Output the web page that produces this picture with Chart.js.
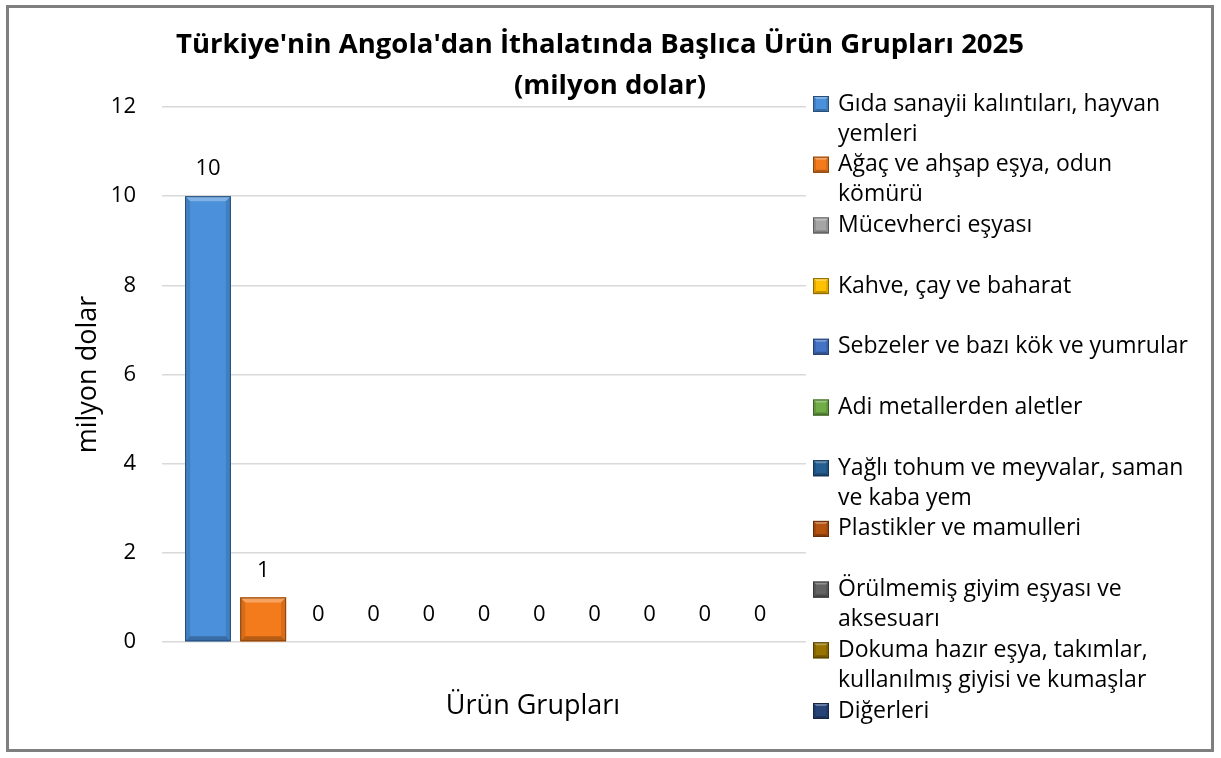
<!DOCTYPE html>
<html>
<head>
<meta charset="utf-8">
<script src="https://cdn.jsdelivr.net/npm/chart.js@4.4.0/dist/chart.umd.min.js"></script>
<style>
  html, body { margin: 0; padding: 0; background: #fff; }
</style>
</head>
<body>
<canvas id="chart" width="1221" height="758"></canvas>
<script>
// Data
const categories = [''];
const seriesNames = [
  'Gıda sanayii kalıntıları, hayvan yemleri',
  'Ağaç ve ahşap eşya, odun kömürü',
  'Mücevherci eşyası',
  'Kahve, çay ve baharat',
  'Sebzeler ve bazı kök ve yumrular',
  'Adi metallerden aletler',
  'Yağlı tohum ve meyvalar, saman ve kaba yem',
  'Plastikler ve mamulleri',
  'Örülmemiş giyim eşyası ve aksesuarı',
  'Dokuma hazır eşya, takımlar, kullanılmış giyisi ve kumaşlar',
  'Diğerleri'
];
const seriesValues = [10, 1, 0, 0, 0, 0, 0, 0, 0, 0, 0];
const seriesColors = ['#4A90DA', '#F47B1C', '#A5A5A5', '#FFC000', '#4472C4', '#70AD47',
                      '#255E91', '#B4520F', '#636363', '#997300', '#264478'];
const titleLines = ["Türkiye'nin Angola'dan İthalatında Başlıca Ürün Grupları 2025", '(milyon dolar)'];
const yTitle = 'milyon dolar';
const xTitle = 'Ürün Grupları';

const FONT = '"Open Sans", "Noto Sans", sans-serif';

function shade(hex, amt) {
  const n = parseInt(hex.slice(1), 16);
  let r = (n >> 16) & 255, g = (n >> 8) & 255, b = n & 255;
  const f = v => Math.max(0, Math.min(255, Math.round(amt < 0 ? v * (1 + amt) : v + (255 - v) * amt)));
  return `rgb(${f(r)},${f(g)},${f(b)})`;
}

// draws a beveled box like the office 3D bar style
function bevelBox(c, left, top, right, bottom, color, b) {
  c.save();
  c.fillStyle = color;
  c.fillRect(left, top, right - left, bottom - top);
  c.fillStyle = shade(color, 0.3);
  c.beginPath();
  c.moveTo(left, top); c.lineTo(right, top); c.lineTo(right - b, top + b); c.lineTo(left + b, top + b);
  c.closePath(); c.fill();
  c.fillStyle = shade(color, -0.12);
  c.beginPath();
  c.moveTo(left, top); c.lineTo(left + b, top + b); c.lineTo(left + b, bottom - b); c.lineTo(left, bottom);
  c.closePath(); c.fill();
  c.beginPath();
  c.moveTo(right, top); c.lineTo(right - b, top + b); c.lineTo(right - b, bottom - b); c.lineTo(right, bottom);
  c.closePath(); c.fill();
  c.fillStyle = shade(color, -0.25);
  c.beginPath();
  c.moveTo(left, bottom); c.lineTo(left + b, bottom - b); c.lineTo(right - b, bottom - b); c.lineTo(right, bottom);
  c.closePath(); c.fill();
  c.strokeStyle = shade(color, -0.45);
  c.lineWidth = 1;
  c.strokeRect(left + 0.5, top + 0.5, right - left - 1, bottom - top - 1);
  c.restore();
}

function wrapText(c, text, maxW) {
  const words = text.split(' ');
  const lines = [];
  let cur = '';
  words.forEach(w => {
    const t = cur ? cur + ' ' + w : w;
    if (c.measureText(t).width > maxW && cur) { lines.push(cur); cur = w; }
    else cur = t;
  });
  if (cur) lines.push(cur);
  return lines;
}

const decor = {
  id: 'decor',
  beforeDraw(chart) {
    const c = chart.ctx;
    c.save();
    c.fillStyle = '#fff';
    c.fillRect(0, 0, chart.width, chart.height);
    c.strokeStyle = '#7f7f7f';
    c.lineWidth = 3;
    c.strokeRect(7.5, 6.5, 1205, 744);
    c.restore();
  },
  afterDatasetsDraw(chart) {
    const c = chart.ctx;
    chart.data.datasets.forEach((ds, i) => {
      chart.getDatasetMeta(i).data.forEach((bar, j) => {
        const half = bar.width / 2;
        if (bar.base - bar.y > 1) {
          bevelBox(c, bar.x - half, bar.y, bar.x + half, bar.base, ds.backgroundColor, 5);
        }
        c.save();
        c.fillStyle = '#000';
        c.font = '22px ' + FONT;
        c.textAlign = 'center';
        c.textBaseline = 'middle';
        c.fillText(String(ds.data[j]), bar.x, bar.y - 27);
        c.restore();
      });
    });
  },
  afterDraw(chart) {
    const c = chart.ctx;
    const area = chart.chartArea;
    c.save();
    c.fillStyle = '#000';
    c.textAlign = 'center';
    c.textBaseline = 'middle';
    c.font = 'bold 27.5px ' + FONT;
    c.fillText(titleLines[0], 600, 45);
    c.fillText(titleLines[1], 610, 86);

    // x axis title sits right of the plot centre in the original
    c.font = '27px ' + FONT;
    c.fillText(xTitle, area.left + 371, 706);

    // legend
    c.font = '23px ' + FONT;
    c.textAlign = 'left';
    chart.data.datasets.forEach((ds, i) => {
      const y = 104 + i * 60.7;
      bevelBox(c, 813, y - 8, 829, y + 8, ds.backgroundColor, 3);
      const lines = wrapText(c, ds.label, 360);
      lines.forEach((ln, k) => c.fillText(ln, 838, y + k * 30));
    });
    c.restore();
  }
};

new Chart(document.getElementById('chart'), {
  type: 'bar',
  data: {
    labels: categories,
    datasets: seriesNames.map((name, i) => ({
      label: name,
      data: [seriesValues[i]],
      backgroundColor: seriesColors[i],
      borderWidth: 0,
      categoryPercentage: 0.943,
      barPercentage: 0.83
    }))
  },
  options: {
    responsive: false,
    animation: false,
    layout: { padding: { top: 107, right: 415, bottom: 0, left: 0 } },
    plugins: {
      legend: { display: false },
      title: { display: false },
      tooltip: { enabled: false }
    },
    scales: {
      x: {
        ticks: { display: false },
        grid: { display: false },
        border: { display: false },
        title: { display: false, text: xTitle },
        afterFit(scale) { scale.height = 116; }
      },
      y: {
        min: 0, max: 12,
        ticks: { stepSize: 2, color: '#000', padding: 26, font: { family: FONT, size: 22 } },
        grid: { color: '#d9d9d9', lineWidth: 1.5, drawTicks: false },
        border: { display: false },
        title: {
          display: true, text: yTitle, color: '#000',
          font: { family: FONT, size: 27 },
          padding: { top: 72, bottom: 0 }
        },
        afterFit(scale) { scale.width = 162; }
      }
    }
  },
  plugins: [decor]
});
</script>
</body>
</html>
